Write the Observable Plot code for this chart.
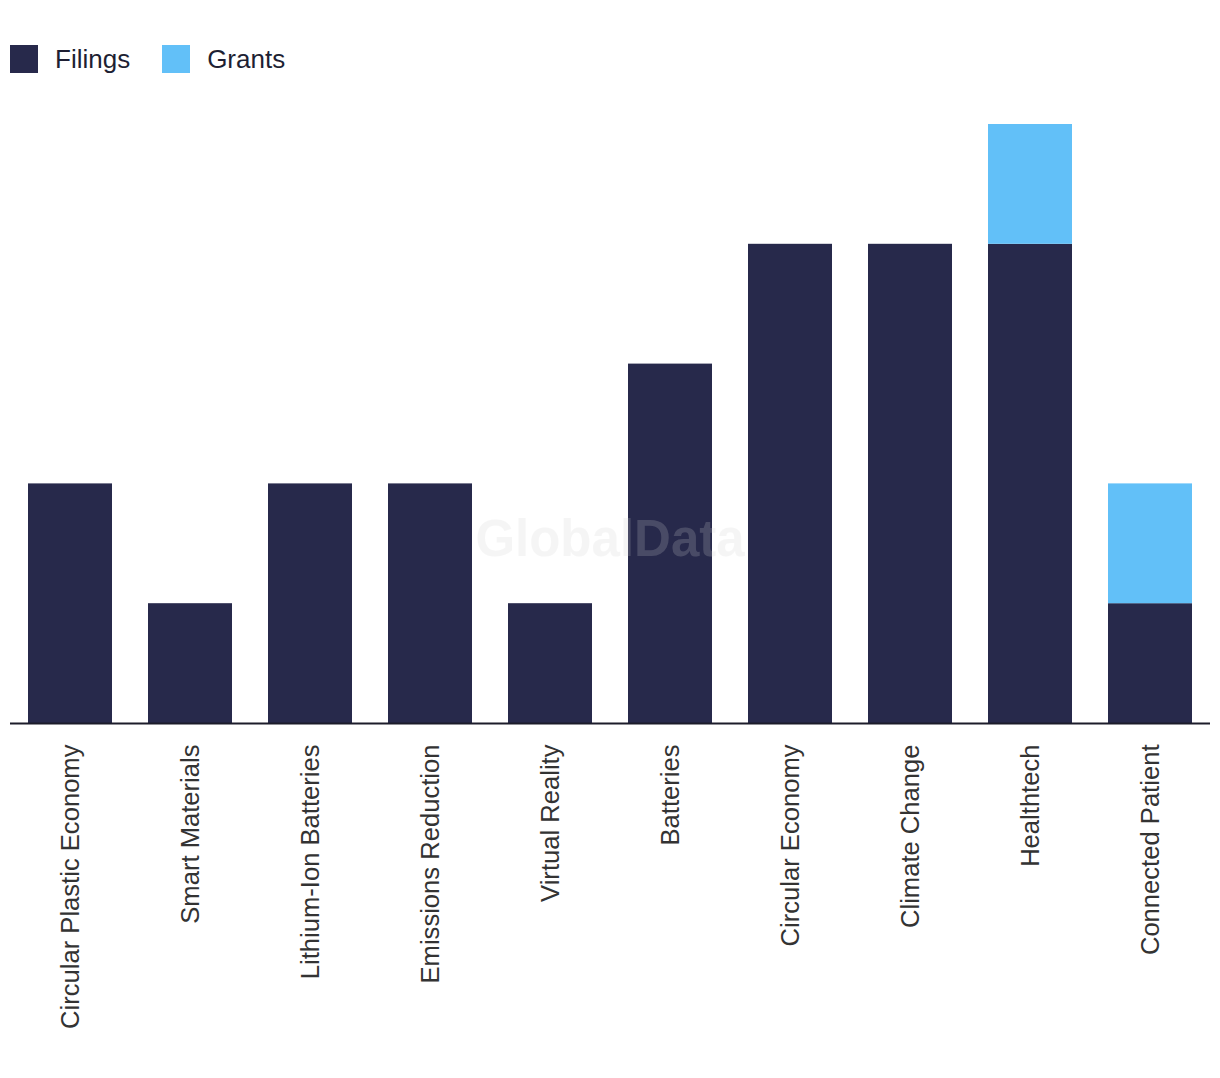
<!DOCTYPE html>
<html>
<head>
<meta charset="utf-8">
<script src="https://cdn.jsdelivr.net/npm/d3@7"></script>
<script src="https://cdn.jsdelivr.net/npm/@observablehq/plot@0.6"></script>
<style>
  html, body { margin: 0; padding: 0; background: #fff; }
  #wrap { position: relative; width: 1220px; height: 1078px; font-family: "Liberation Sans", Arial, sans-serif; }
  #legend { position: absolute; left: 10px; top: 45px; display: flex; align-items: center; height: 28px; font-size: 26px; color: #1e1f33; }
  .item { display: flex; align-items: center; margin-right: 32px; }
  .sw { width: 28px; height: 28px; margin-right: 17px; }
  #chart { position: absolute; left: 0; top: 100px; }
  #wm { position: absolute; left: 0; width: 1220px; top: 509px; text-align: center; font-size: 51px; font-weight: bold; color: #d2d2d2; opacity: 0.2; pointer-events: none; }
</style>
</head>
<body>
<div id="wrap">
  <div id="legend"></div>
  <div id="chart"></div>
  <div id="wm">GlobalData</div>
</div>
<script>
const categories = ["Circular Plastic Economy", "Smart Materials", "Lithium-Ion Batteries", "Emissions Reduction", "Virtual Reality", "Batteries", "Circular Economy", "Climate Change", "Healthtech", "Connected Patient"];
const filings = [2, 1, 2, 2, 1, 3, 4, 4, 4, 1];
const grants = [0, 0, 0, 0, 0, 0, 0, 0, 1, 1];
const seriesNames = ["Filings", "Grants"];
const seriesColors = ["#27294b", "#62c0f8"];

const data = [];
categories.forEach((c, i) => {
  data.push({category: c, series: "Filings", value: filings[i]});
  data.push({category: c, series: "Grants", value: grants[i]});
});

const legend = document.getElementById("legend");
seriesNames.forEach((s, i) => {
  const it = document.createElement("div");
  it.className = "item";
  it.innerHTML = `<div class="sw" style="background:${seriesColors[i]}"></div><span>${s}</span>`;
  legend.appendChild(it);
});

const chart = Plot.plot({
  width: 1220,
  height: 930,
  marginTop: 24,
  marginBottom: 307,
  marginLeft: 10,
  marginRight: 10,
  style: {fontFamily: "Liberation Sans, Arial, sans-serif", background: "#fff"},
  x: {domain: categories, paddingInner: 0.3, paddingOuter: 0.15, label: null, tickRotate: -90, tickSize: 0, tickPadding: 21, fontSize: 25.6},
  y: {domain: [0, 5], axis: null},
  color: {domain: seriesNames, range: seriesColors},
  marks: [
    Plot.barY(data, {x: "category", y: "value", fill: "series", order: seriesNames}),
    Plot.ruleY([0], {stroke: "#1c1c2a", strokeWidth: 2}),
    Plot.axisX({tickRotate: -90, tickSize: 0, tickPadding: 21, fontSize: 25.6, color: "#333", label: null})
  ]
});
document.getElementById("chart").appendChild(chart);
</script>
</body>
</html>
